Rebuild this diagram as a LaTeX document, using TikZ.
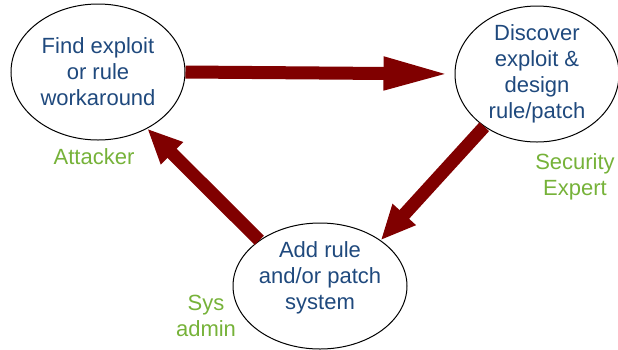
\documentclass[tikz,border=0pt]{standalone}
\usepackage{fontspec}
\setmainfont{Liberation Sans}
\usepackage{xcolor}
\usepackage{tikz}
\usetikzlibrary{shapes.geometric}
\usetikzlibrary{arrows.meta}
\definecolor{stageblue}{RGB}{31,73,125}
\definecolor{rolegreen}{RGB}{118,178,57}
\definecolor{arrowred}{RGB}{128,0,0}
\tikzset{ stage/.style = {ellipse, draw, line width=1pt, inner sep=-8pt, text=stageblue, align=center, font=\fontsize{22}{26}\selectfont} }
\tikzset{ role/.style = {text=rolegreen, align=center, font=\fontsize{22}{26}\selectfont} }
\tikzset{ bigarrow/.style = {draw=arrowred, fill=arrowred, line width=13pt} }

\begin{document}
\begin{tikzpicture}[x=1pt,y=-1pt]
    \useasboundingbox (0,0) rectangle (618,349);
    % the three stages of the cycle
    \node [style=stage, minimum width=174pt, minimum height=136pt] (find) at (98,72) {Find exploit\\or rule\\workaround};
    \node [style=stage, minimum width=164pt, minimum height=136pt] (discover) at (537,74) {Discover\\exploit \&\\design\\rule/patch};
    \node [style=stage, minimum width=174pt, minimum height=126pt, text depth=20pt] (add) at (320,286) {Add rule\\and/or patch\\system};
    % who does what
    \node [style=role] (attacker) at (94,157) {Attacker};
    \node [style=role] (expert) at (575,177) {Security\\Expert};
    \node [style=role] (sysadmin) at (206,316) {Sys\\admin};
    % block arrows between stages
    \draw [style=bigarrow, -{Triangle[length=67pt,width=30pt]}, shorten >=4pt] (find.east) -- (discover.west);
    \draw [style=bigarrow, -{Triangle[length=35pt,width=29pt]}] (discover.225) -- (add.37);
    \draw [style=bigarrow, -{Triangle[length=35pt,width=29pt]}] (add.143) -- (find.311);
\end{tikzpicture}
\end{document}
